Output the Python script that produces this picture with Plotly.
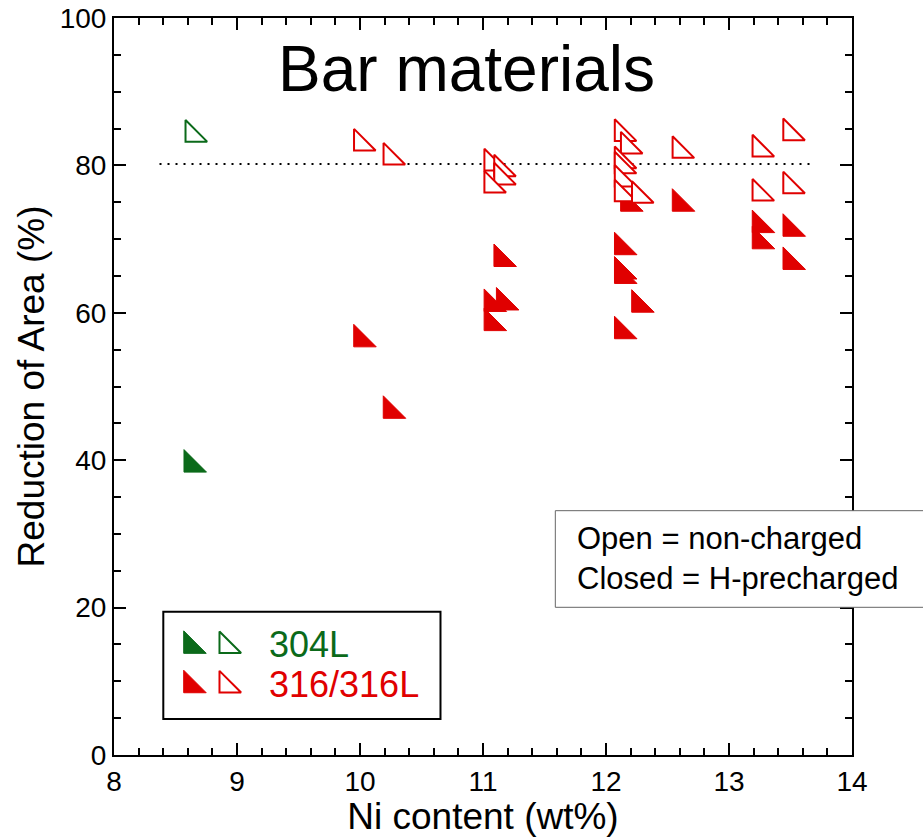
import plotly.graph_objects as go

# ---------------- data ----------------
ni_304_charged = [8.63]
ra_304_charged = [39.4]
ni_304_uncharged = [8.64]
ra_304_uncharged = [84.2]

ni_316_charged = [10.01, 10.25, 11.15, 11.07, 11.17, 11.07, 12.18, 12.13, 12.13,
                  12.13, 12.27, 12.13, 12.60, 13.25, 13.25, 13.50, 13.50]
ra_316_charged = [56.4, 46.7, 67.3, 61.2, 61.4, 58.6, 74.8, 68.9, 65.6,
                  65.0, 61.1, 57.5, 74.8, 71.9, 69.7, 71.4, 66.9]

ni_316_uncharged = [10.01, 10.25, 11.07, 11.15, 11.15, 11.07, 12.13, 12.18, 12.13,
                    12.13, 12.13, 12.13, 12.27, 12.60, 13.25, 13.25, 13.50, 13.50]
ra_316_uncharged = [83.0, 81.1, 80.3, 79.5, 78.4, 77.3, 84.3, 82.6, 80.6,
                    79.9, 78.1, 76.1, 75.9, 82.0, 82.2, 76.2, 84.4, 77.2]

ref_line_ni = [8.37, 13.67]
ref_line_ra = [80.2, 80.2]

x_ticks = [8, 9, 10, 11, 12, 13, 14]
y_ticks = [0, 20, 40, 60, 80, 100]

legend_labels = ["304L", "316/316L"]
note_lines = ["Open = non-charged", "Closed = H-precharged"]
title_text = "Bar materials"

# ---------------- styling ----------------
GREEN = "#0b6a1a"
RED = "#e00000"
FONT = "Liberation Sans, Arial, Helvetica, sans-serif"
MSIZE = 25

fig = go.Figure()


def closed(x, y, c, xa="x", ya="y"):
    return go.Scatter(x=x, y=y, mode="markers", xaxis=xa, yaxis=ya, showlegend=False,
                      hoverinfo="skip",
                      marker=dict(symbol="triangle-sw", size=MSIZE, color=c,
                                  line=dict(color=c, width=1)))


def opened(x, y, c, xa="x", ya="y"):
    return go.Scatter(x=x, y=y, mode="markers", xaxis=xa, yaxis=ya, showlegend=False,
                      hoverinfo="skip",
                      marker=dict(symbol="triangle-sw", size=MSIZE - 1, color="white",
                                  line=dict(color=c, width=2)))


fig.add_trace(go.Scatter(x=ref_line_ni, y=ref_line_ra, mode="lines", showlegend=False,
                         line=dict(color="black", width=2, dash="2px,6px")))
fig.add_trace(closed(ni_304_charged, ra_304_charged, GREEN))
fig.add_trace(closed(ni_316_charged, ra_316_charged, RED))
fig.add_trace(opened(ni_304_uncharged, ra_304_uncharged, GREEN))
fig.add_trace(opened(ni_316_uncharged, ra_316_uncharged, RED))

# legend glyphs, drawn on a small hidden subplot occupying the legend box
LEG_SYM_X = [0.1007, 0.2287]
LEG_ROW_Y = [0.682, 0.315]
LEG_TXT_Y = [0.699, 0.320]
leg_colors = [GREEN, RED]
for row, col in enumerate(leg_colors):
    fig.add_trace(closed([LEG_SYM_X[0]], [LEG_ROW_Y[row]], col, "x2", "y2"))
    fig.add_trace(opened([LEG_SYM_X[1]], [LEG_ROW_Y[row]], col, "x2", "y2"))
    fig.add_annotation(x=0.375, y=LEG_TXT_Y[row], xref="x2", yref="y2", text=legend_labels[row],
                       showarrow=False, xanchor="left", yanchor="middle",
                       font=dict(family=FONT, size=36, color=col))

axis_common = dict(showgrid=False, zeroline=False, showline=True, linecolor="black",
                   linewidth=2, mirror="allticks", ticks="inside", ticklen=12,
                   tickwidth=2, tickcolor="black", automargin=False,
                   tickfont=dict(family=FONT, size=28, color="black"))

fig.update_layout(
    width=923, height=837,
    margin=dict(l=114, r=71, t=18, b=82),
    paper_bgcolor="white", plot_bgcolor="white",
    font=dict(family=FONT, color="black"),
    xaxis=dict(range=[8, 14], tickvals=x_ticks,
               minor=dict(dtick=0.2, tick0=8, ticks="inside", ticklen=7, tickwidth=1.5,
                          tickcolor="black", showgrid=False),
               title=dict(text="Ni content (wt%)", font=dict(family=FONT, size=37),
                          standoff=7),
               **axis_common),
    yaxis=dict(range=[0, 100], tickvals=y_ticks,
               minor=dict(dtick=5, tick0=0, ticks="inside", ticklen=7, tickwidth=1.5,
                          tickcolor="black", showgrid=False),
               title=dict(text="Reduction of Area (%)", font=dict(family=FONT, size=37),
                          standoff=4),
               **axis_common),
    xaxis2=dict(domain=[0.0668, 0.4424], range=[0, 1], visible=False, anchor="y2",
                fixedrange=True),
    yaxis2=dict(domain=[0.0488, 0.1944], range=[0, 1], visible=False, anchor="x2",
                fixedrange=True),
)

# legend frame
fig.add_shape(type="rect", xref="x2 domain", yref="y2 domain", x0=0, x1=1, y0=0, y1=1,
              line=dict(color="black", width=2), fillcolor="rgba(0,0,0,0)", layer="above")

# note box
fig.add_shape(type="rect", xref="paper", yref="paper", x0=0.598, x1=1.2, y0=0.2004, y1=0.3315,
              line=dict(color="#666666", width=1), fillcolor="white", layer="above")
fig.add_annotation(x=0.6247, y=0.266, xref="paper", yref="paper",
                   text="<br>".join(note_lines), showarrow=False, xanchor="left",
                   yanchor="middle", align="left",
                   font=dict(family=FONT, size=31, color="black"))

# title
fig.add_annotation(x=0.478, y=0.931, xref="paper", yref="paper", text=title_text,
                   showarrow=False, xanchor="center", yanchor="middle",
                   font=dict(family=FONT, size=64, color="black"))

fig.write_html("out.html")
